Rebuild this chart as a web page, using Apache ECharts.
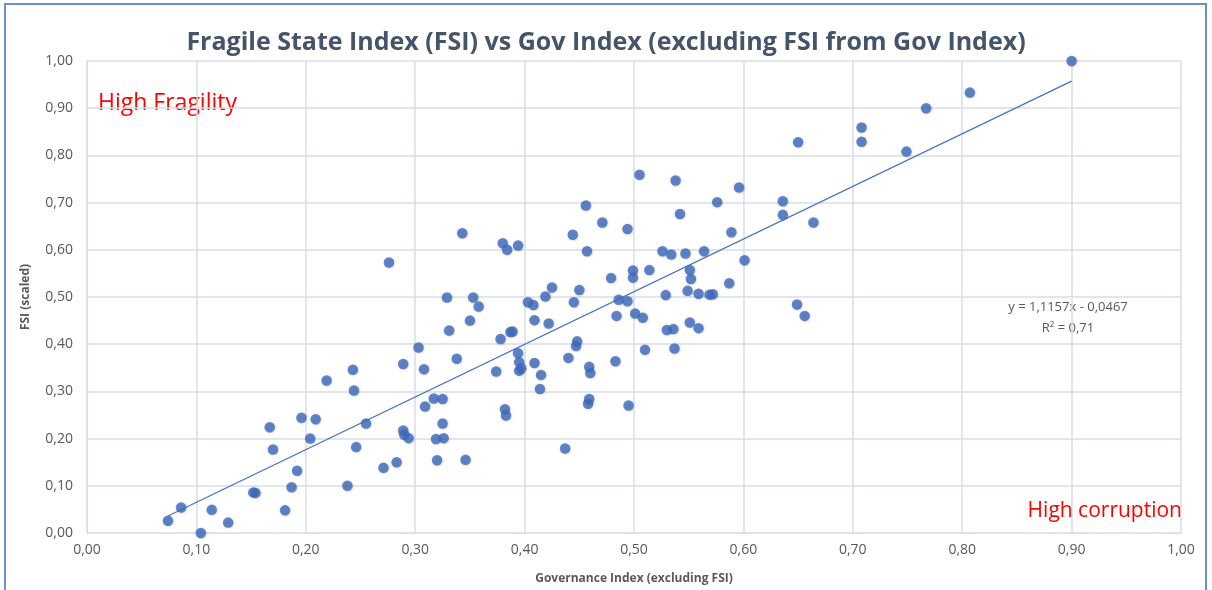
<!DOCTYPE html>
<html>
<head>
<meta charset="utf-8">
<script src="https://cdn.jsdelivr.net/npm/echarts@6/dist/echarts.min.js"></script>
<style>
  html, body { margin: 0; padding: 0; background: #fff; }
  #chart { width: 1212px; height: 590px; }
</style>
</head>
<body>
<div id="chart"></div>
<script>
// Governance Index (excluding FSI) -> x
const govIndex = [
  0.074, 0.086, 0.104, 0.114, 0.129, 0.152, 0.154, 0.167, 0.170, 0.181,
  0.187, 0.192, 0.196, 0.204, 0.209, 0.238, 0.246, 0.255, 0.271, 0.283,
  0.289, 0.290, 0.294, 0.219, 0.243, 0.244, 0.276, 0.289, 0.303, 0.308,
  0.309, 0.317, 0.325, 0.325, 0.319, 0.326, 0.320, 0.346, 0.329, 0.331,
  0.338, 0.343, 0.350, 0.353, 0.358, 0.374, 0.378, 0.380, 0.384, 0.394,
  0.382, 0.383, 0.387, 0.389, 0.394, 0.395, 0.395, 0.397, 0.403, 0.408,
  0.409, 0.409, 0.414, 0.415, 0.419, 0.422, 0.425, 0.437, 0.440, 0.444,
  0.445, 0.447, 0.448, 0.450, 0.456, 0.457, 0.458, 0.459, 0.459, 0.460,
  0.471, 0.479, 0.483, 0.484, 0.486, 0.494, 0.494, 0.495, 0.499, 0.499,
  0.501, 0.505, 0.508, 0.510, 0.514, 0.526, 0.529, 0.530, 0.534, 0.536,
  0.537, 0.538, 0.542, 0.547, 0.549, 0.551, 0.551, 0.552, 0.559, 0.559,
  0.564, 0.569, 0.572, 0.576, 0.587, 0.589, 0.596, 0.601, 0.636, 0.636,
  0.649, 0.650, 0.656, 0.664, 0.708, 0.708, 0.749, 0.767, 0.807, 0.900
];
// FSI (scaled) -> y
const fsi = [
  0.026, 0.054, 0.000, 0.049, 0.022, 0.086, 0.085, 0.224, 0.177, 0.048,
  0.097, 0.132, 0.244, 0.200, 0.241, 0.100, 0.182, 0.232, 0.138, 0.150,
  0.217, 0.208, 0.201, 0.323, 0.346, 0.302, 0.573, 0.358, 0.393, 0.347,
  0.268, 0.285, 0.284, 0.232, 0.199, 0.201, 0.154, 0.155, 0.499, 0.429,
  0.369, 0.635, 0.450, 0.499, 0.480, 0.342, 0.411, 0.614, 0.600, 0.609,
  0.262, 0.249, 0.426, 0.427, 0.381, 0.362, 0.344, 0.349, 0.489, 0.483,
  0.451, 0.360, 0.305, 0.335, 0.501, 0.444, 0.520, 0.179, 0.371, 0.632,
  0.489, 0.396, 0.406, 0.515, 0.694, 0.597, 0.274, 0.284, 0.352, 0.339,
  0.658, 0.540, 0.364, 0.460, 0.494, 0.491, 0.644, 0.270, 0.556, 0.541,
  0.465, 0.759, 0.456, 0.388, 0.557, 0.597, 0.504, 0.430, 0.590, 0.432,
  0.391, 0.747, 0.676, 0.592, 0.513, 0.557, 0.446, 0.538, 0.507, 0.434,
  0.597, 0.505, 0.506, 0.701, 0.529, 0.637, 0.732, 0.578, 0.703, 0.674,
  0.484, 0.828, 0.460, 0.658, 0.859, 0.829, 0.808, 0.900, 0.933, 1.000
];
// linear trendline reported by the original chart
const slope = 1.1157;
const intercept = -0.0467;
const axisTicks = [0, 0.1, 0.2, 0.3, 0.4, 0.5, 0.6, 0.7, 0.8, 0.9, 1.0];

const points = govIndex.map((x, i) => [x, fsi[i]]);
const xMin = Math.min(...govIndex);
const xMax = Math.max(...govIndex);
const trend = [[xMin, slope * xMin + intercept], [xMax, slope * xMax + intercept]];

const fmt = v => v.toFixed(2).replace('.', ',');
const labelFont = "'Open Sans', 'Liberation Sans', sans-serif";
const gridColor = '#D9DDE6';
const textGrey = '#595959';

const chart = echarts.init(document.getElementById('chart'));
chart.setOption({
  animation: false,
  backgroundColor: '#fff',
  title: {
    text: 'Fragile State Index (FSI) vs Gov Index (excluding FSI from Gov Index)',
    left: 'center',
    top: 25,
    textStyle: {
      fontFamily: "'Liberation Sans Narrow', 'Open Sans', sans-serif",
      fontSize: 25,
      fontWeight: 'bold',
      color: '#44546A'
    }
  },
  grid: { left: 87, right: 31, top: 61, bottom: 57 },
  xAxis: {
    type: 'value',
    min: axisTicks[0],
    max: axisTicks[axisTicks.length - 1],
    interval: 0.1,
    name: 'Governance Index (excluding FSI)',
    nameLocation: 'middle',
    nameGap: 40,
    nameTextStyle: { fontFamily: labelFont, fontSize: 12, fontWeight: 'bold', color: textGrey },
    axisLine: { show: true, lineStyle: { color: gridColor } },
    axisTick: { show: false },
    axisLabel: { formatter: fmt, fontFamily: labelFont, fontSize: 14, color: textGrey, margin: 10 },
    splitLine: { show: true, lineStyle: { color: gridColor, width: 1.5 } }
  },
  yAxis: {
    type: 'value',
    min: axisTicks[0],
    max: axisTicks[axisTicks.length - 1],
    interval: 0.1,
    name: 'FSI (scaled)',
    nameLocation: 'middle',
    nameGap: 55,
    nameTextStyle: { fontFamily: labelFont, fontSize: 12, fontWeight: 'bold', color: textGrey },
    axisLine: { show: true, lineStyle: { color: gridColor } },
    axisTick: { show: false },
    axisLabel: { formatter: fmt, fontFamily: labelFont, fontSize: 14, color: textGrey, margin: 14 },
    splitLine: { show: true, lineStyle: { color: gridColor, width: 1.5 } }
  },
  series: [
    {
      type: 'scatter',
      data: points,
      symbolSize: 10.5,
      itemStyle: {
        color: '#3F6CC0',
        shadowBlur: 2,
        shadowColor: 'rgba(0,0,0,0.25)',
        shadowOffsetX: 0.5,
        shadowOffsetY: 0.5
      },
      z: 3
    },
    {
      type: 'line',
      data: trend,
      symbol: 'none',
      lineStyle: { color: '#4472C4', width: 1.2 },
      z: 2
    }
  ],
  graphic: [
    {
      type: 'rect',
      shape: { x: 5, y: 4, width: 1201, height: 600 },
      style: { fill: null, stroke: '#6C8ED3', lineWidth: 2 },
      silent: true
    },
    {
      type: 'text',
      left: 98,
      top: 92,
      style: { text: 'High Fragility', fill: '#FF0000', font: "23px 'Open Sans', sans-serif" }
    },
    {
      type: 'text',
      right: 30,
      top: 501,
      style: { text: 'High corruption', fill: '#FF0000', font: "21px 'Open Sans', sans-serif" }
    },
    {
      type: 'text',
      x: 1068,
      y: 297,
      style: {
        text: 'y = 1,1157x - 0,0467\nR² = 0,71',
        fill: textGrey,
        font: "13px 'Open Sans', sans-serif",
        align: 'center',
        lineHeight: 21
      }
    }
  ]
});
</script>
</body>
</html>
